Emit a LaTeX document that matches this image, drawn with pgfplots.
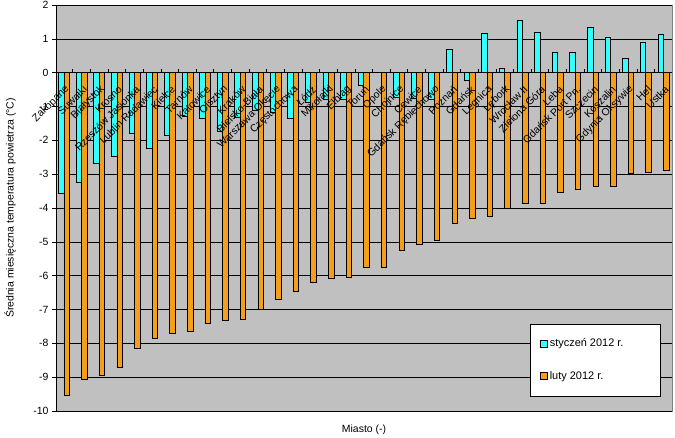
\documentclass[border=0pt]{standalone}
\usepackage{fontspec}
\setmainfont{Liberation Sans}
\usepackage{pgfplots}
\pgfplotsset{compat=1.18}
\usepackage{pgfplotstable}
\definecolor{jan}{RGB}{51,255,255}
\definecolor{feb}{RGB}{245,158,27}
\definecolor{bg}{RGB}{192,192,192}

\pgfplotstableread{
x jan feb
0 -3.58 -9.54
1 -3.23 -9.06
2 -2.67 -8.95
3 -2.48 -8.71
4 -1.78 -8.16
5 -2.23 -7.86
6 -1.86 -7.71
7 -1.29 -7.63
8 -1.34 -7.42
9 -1.74 -7.33
10 -1.33 -7.30
11 -1.10 -7.00
12 -1.16 -6.71
13 -1.34 -6.47
14 -0.88 -6.21
15 -0.78 -6.09
16 -0.78 -6.06
17 -0.38 -5.76
18 0.02 -5.74
19 -0.72 -5.24
20 -0.75 -5.07
21 -0.78 -4.95
22 0.68 -4.45
23 -0.22 -4.30
24 1.16 -4.24
25 0.14 -4.00
26 1.55 -3.86
27 1.19 -3.86
28 0.59 -3.53
29 0.59 -3.44
30 1.34 -3.35
31 1.04 -3.35
32 0.41 -2.97
33 0.89 -2.94
34 1.14 -2.88
}\data

\pgfplotsset{
  common/.style={
    at={(0,0)}, anchor=south west,
    scale only axis, width=616bp, height=406bp,
    xmin=-0.45, xmax=34.49, ymin=-10, ymax=2,
  },
}

\begin{document}
\begin{tikzpicture}
\useasboundingbox (-56bp,-27bp) rectangle (619bp,411bp);
\begin{axis}[
  common,
  axis x line=middle, axis y line=left,
  axis line style={-, black, line width=0.7bp},
  every axis x label/.style={at={(rel axis cs:0.5,0)}, anchor=north, yshift=-10bp},
  every axis y label/.style={at={(rel axis cs:0,0.5)}, xshift=-46bp, rotate=90, anchor=center},
  xlabel={Miasto (-)},
  ylabel={Średnia miesięczna temperatura powietrza (°C)},
  label style={font=\fontsize{10.5}{12}\selectfont},
  axis background/.style={fill=bg, draw=gray},
  ytick={-10,-9,...,2},
  ymajorgrids, grid style={black, line width=0.6bp},
  ytick align=outside, major tick length=4bp,
  tick style={black, line width=0.6bp},
  /pgf/number format/assume math mode=true,
  yticklabel style={font=\fontsize{10.5}{12}\selectfont},
  xmajorticks=false,
  legend style={at={(0.9805,0.037)}, anchor=south east, draw=black, fill=white,
    font=\fontsize{11}{13}\selectfont, row sep=19bp, inner xsep=10bp, inner ysep=13bp,
    cells={anchor=west}, /tikz/every even column/.append style={column sep=4bp}},
]
\addplot[ybar, bar width=5.5bp, bar shift=-2.75bp, fill=jan, draw=black, line width=0.6bp,
  legend image code/.code={\draw[fill=jan, draw=black, line width=0.6bp] (0bp,-3.5bp) rectangle (7bp,3.5bp);}]
  table[x=x, y=jan]{\data};
\addlegendentry{\makebox[98bp][l]{styczeń 2012 r.}}
\addplot[ybar, bar width=5.5bp, bar shift=2.75bp, fill=feb, draw=black, line width=0.6bp,
  legend image code/.code={\draw[fill=feb, draw=black, line width=0.6bp] (0bp,-3.5bp) rectangle (7bp,3.5bp);}]
  table[x=x, y=feb]{\data};
\addlegendentry{\makebox[98bp][l]{luty 2012 r.}}
\end{axis}
\begin{axis}[
  common,
  axis x line=middle, axis y line=none,
  axis line style={-, black, line width=0.7bp},
  ytick=\empty,
  xtick={0,1,...,34},
  major x tick style={draw=none},
  minor xtick={-0.5,0.5,...,34.5},
  minor tick length=4bp,
  minor x tick style={black, line width=0.6bp},
  xtick align=inside,
  xticklabels={Zakopane, Suwałki, Białystok, Krosno, Rzeszów Jasionka, Lublin Radawiec, Kielce, Tarnów, Katowice, Olsztyn, Kraków, Bielsko-Biała, Warszawa Okęcie, Częstochowa, Łódź, Mikołajki, Elbląg, Toruń, Opole, Chojnice, Cewice, Gdańsk Rębiechowo, Poznań, Gdańsk, Legnica, Lębork, Wrocław II, Zielona Góra, Łeba, Gdańsk Port Pn., Szczecin, Koszalin, Gdynia Oksywie, Hel, Ustka},
  xticklabel style={font=\fontsize{10.5}{12}\selectfont, rotate=45, anchor=east, xshift=-7bp, yshift=-13bp, inner sep=1bp},
]
\end{axis}
\end{tikzpicture}
\end{document}
